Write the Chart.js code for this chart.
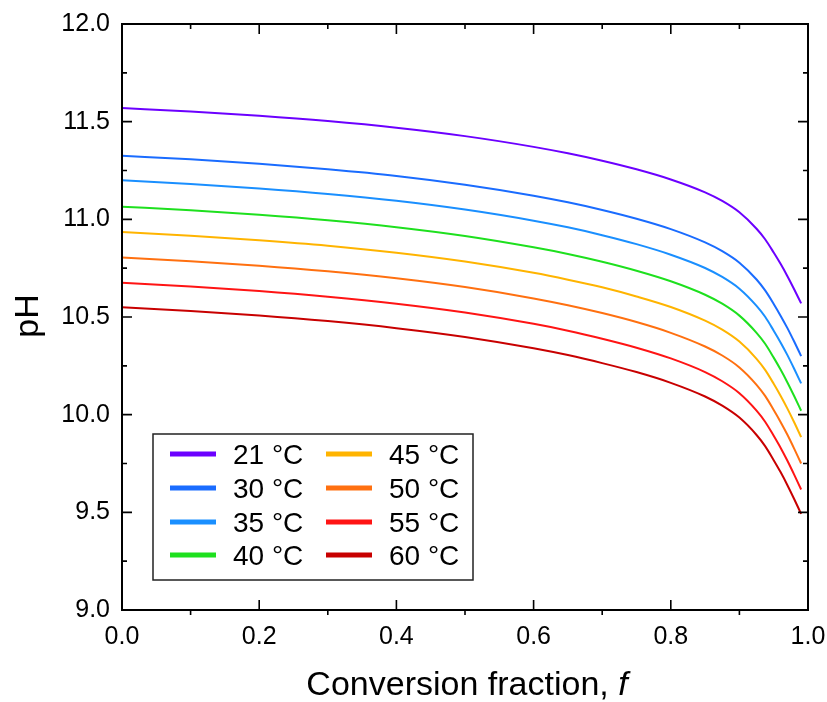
<!DOCTYPE html>
<html>
<head>
<meta charset="utf-8">
<script src="https://cdn.jsdelivr.net/npm/chart.js@4/dist/chart.umd.min.js"></script>
<style>
  html, body { margin: 0; padding: 0; background: #ffffff; }
  #wrap { width: 827px; height: 702px; position: relative; }
</style>
</head>
<body>
<div id="wrap"><canvas id="c" width="827" height="702"></canvas></div>
<script>
// ---- data ----
const fValues = [0, 0.1, 0.2, 0.3, 0.4, 0.5, 0.6, 0.65, 0.7, 0.75, 0.8, 0.85, 0.875, 0.9, 0.925, 0.9375, 0.95, 0.96, 0.97, 0.98, 0.99];

const ph21 = [11.570, 11.552, 11.530, 11.503, 11.469, 11.426, 11.371, 11.338, 11.300, 11.256, 11.204, 11.138, 11.094, 11.036, 10.952, 10.898, 10.830, 10.772, 10.709, 10.641, 10.570];
const ph30 = [11.325, 11.307, 11.284, 11.256, 11.222, 11.177, 11.121, 11.087, 11.048, 11.003, 10.950, 10.882, 10.837, 10.778, 10.692, 10.636, 10.567, 10.507, 10.443, 10.373, 10.300];
const ph35 = [11.200, 11.181, 11.158, 11.130, 11.095, 11.050, 10.993, 10.959, 10.919, 10.873, 10.819, 10.751, 10.705, 10.645, 10.557, 10.501, 10.430, 10.370, 10.305, 10.234, 10.160];
const ph40 = [11.065, 11.046, 11.023, 10.995, 10.960, 10.915, 10.857, 10.823, 10.783, 10.737, 10.683, 10.614, 10.568, 10.507, 10.419, 10.363, 10.292, 10.231, 10.165, 10.094, 10.020];
const ph45 = [10.935, 10.916, 10.893, 10.865, 10.829, 10.784, 10.726, 10.691, 10.652, 10.605, 10.551, 10.481, 10.435, 10.374, 10.286, 10.229, 10.158, 10.097, 10.031, 9.960, 9.885];
const ph50 = [10.805, 10.786, 10.763, 10.734, 10.698, 10.653, 10.595, 10.560, 10.520, 10.474, 10.419, 10.349, 10.303, 10.242, 10.153, 10.096, 10.024, 9.963, 9.897, 9.825, 9.750];
const ph55 = [10.675, 10.656, 10.633, 10.604, 10.568, 10.523, 10.465, 10.430, 10.389, 10.343, 10.288, 10.218, 10.171, 10.110, 10.021, 9.964, 9.892, 9.831, 9.764, 9.692, 9.617];
const ph60 = [10.550, 10.531, 10.508, 10.479, 10.443, 10.398, 10.340, 10.305, 10.264, 10.218, 10.163, 10.093, 10.046, 9.985, 9.896, 9.839, 9.767, 9.706, 9.639, 9.567, 9.492];

const seriesLabels = ['21 °C', '30 °C', '35 °C', '40 °C', '45 °C', '50 °C', '55 °C', '60 °C'];
const seriesValues = [ph21, ph30, ph35, ph40, ph45, ph50, ph55, ph60];
const seriesColors = ['#6c00ff', '#1a6cff', '#1a8fff', '#1ee01e', '#ffb400', '#ff7010', '#ff1414', '#c80000'];

const xTickValues = [0, 0.2, 0.4, 0.6, 0.8, 1.0];
const yTickValues = [9.0, 9.5, 10.0, 10.5, 11.0, 11.5, 12.0];
const xAxisTitle = 'Conversion fraction, ';
const xAxisTitleItalic = 'f';
const yAxisTitle = 'pH';

const FONT = '"Liberation Sans", Arial, Helvetica, sans-serif';

const datasets = seriesValues.map((vals, i) => ({
  label: seriesLabels[i],
  data: fValues.map((f, j) => ({ x: f, y: vals[j] })),
  borderColor: seriesColors[i],
  backgroundColor: seriesColors[i],
  borderWidth: 2,
  pointRadius: 0,
  fill: false,
  cubicInterpolationMode: 'monotone'
}));

const framePlugin = {
  id: 'frame',
  afterDraw(chart) {
    const ctx = chart.ctx;
    const xs = chart.scales.x, ys = chart.scales.y;
    const L = xs.left, R = xs.right, T = ys.top, B = ys.bottom;
    ctx.save();
    ctx.strokeStyle = '#000';
    ctx.lineWidth = 2;
    ctx.strokeRect(L, T, R - L, B - T);
    ctx.lineWidth = 1.6;
    ctx.beginPath();
    // y ticks (left and right, inward)
    for (let v = 9.0; v <= 12.0001; v += 0.25) {
      const y = ys.getPixelForValue(v);
      const major = Math.abs(v * 2 - Math.round(v * 2)) < 1e-6;
      const len = major ? 10 : 5;
      ctx.moveTo(L, y); ctx.lineTo(L + len, y);
      ctx.moveTo(R, y); ctx.lineTo(R - len, y);
    }
    // x ticks
    for (let k = 0; k <= 10; k++) {
      const v = k / 10;
      const x = xs.getPixelForValue(v);
      const major = k % 2 === 0;
      if (major) {
        ctx.moveTo(x, B); ctx.lineTo(x, B - 10);
        ctx.moveTo(x, T); ctx.lineTo(x, T + 10);
      } else {
        ctx.moveTo(x, B); ctx.lineTo(x, B + 5);
        ctx.moveTo(x, T); ctx.lineTo(x, T + 5);
      }
    }
    ctx.stroke();

    // axis titles
    ctx.fillStyle = '#000';
    ctx.textBaseline = 'alphabetic';
    const regFont = '34px ' + FONT;
    const itFont = 'italic 34px ' + FONT;
    ctx.font = regFont;
    const w1 = ctx.measureText(xAxisTitle).width;
    ctx.font = itFont;
    const w2 = ctx.measureText(xAxisTitleItalic).width;
    const cx = 467;
    const sx = cx - (w1 + w2) / 2;
    ctx.font = regFont;
    ctx.textAlign = 'left';
    ctx.fillText(xAxisTitle, sx, 695);
    ctx.font = itFont;
    ctx.fillText(xAxisTitleItalic, sx + w1, 695);

    ctx.save();
    ctx.translate(38, 316);
    ctx.rotate(-Math.PI / 2);
    ctx.font = '34px ' + FONT;
    ctx.textAlign = 'center';
    ctx.fillText(yAxisTitle, 0, 0);
    ctx.restore();

    // legend box
    const bx = 153, by = 434, bw = 320, bh = 146;
    ctx.lineWidth = 1.5;
    ctx.strokeStyle = '#222';
    ctx.fillStyle = '#fff';
    ctx.fillRect(bx, by, bw, bh);
    ctx.strokeRect(bx, by, bw, bh);
    const rowY = [454, 488, 522, 555];
    const colLine = [170, 326];
    const colText = [233, 389];
    ctx.font = '28px ' + FONT;
    ctx.textAlign = 'left';
    ctx.textBaseline = 'middle';
    chart.data.datasets.forEach((ds, i) => {
      const col = Math.floor(i / 4), row = i % 4;
      const y = rowY[row];
      ctx.strokeStyle = ds.borderColor;
      ctx.lineWidth = 5;
      ctx.beginPath();
      ctx.moveTo(colLine[col], y);
      ctx.lineTo(colLine[col] + 46, y);
      ctx.stroke();
      ctx.fillStyle = '#000';
      ctx.fillText(ds.label, colText[col], y + 2);
    });
    ctx.restore();
  }
};

new Chart(document.getElementById('c'), {
  type: 'line',
  data: { datasets },
  options: {
    responsive: false,
    animation: false,
    layout: { padding: { left: 0, right: 19, top: 24, bottom: 0 } },
    plugins: { legend: { display: false }, tooltip: { enabled: false }, title: { display: false } },
    scales: {
      x: {
        type: 'linear', min: 0, max: 1.0,
        afterBuildTicks(scale) { scale.ticks = xTickValues.map(v => ({ value: v })); },
        afterFit(scale) { scale.height = 92; scale.paddingLeft = 0; scale.paddingRight = 0; },
        grid: { display: false, drawTicks: false },
        border: { display: false },
        ticks: {
          color: '#000', padding: 12, maxRotation: 0,
          font: { family: FONT, size: 25 },
          callback: v => Number(v).toFixed(1)
        }
      },
      y: {
        type: 'linear', min: 9.0, max: 12.0,
        afterBuildTicks(scale) { scale.ticks = yTickValues.map(v => ({ value: v })); },
        afterFit(scale) { scale.width = 122; scale.paddingTop = 0; scale.paddingBottom = 0; },
        grid: { display: false, drawTicks: false },
        border: { display: false },
        ticks: {
          color: '#000', padding: 12,
          font: { family: FONT, size: 25 },
          callback: v => Number(v).toFixed(1)
        }
      }
    }
  },
  plugins: [framePlugin]
});
</script>
</body>
</html>
